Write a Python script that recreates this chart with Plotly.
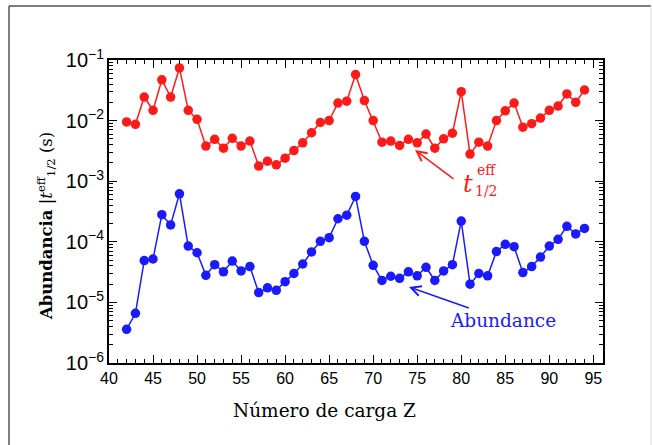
import plotly.graph_objects as go

# Charge number Z
charge_z = [42, 43, 44, 45, 46, 47, 48, 49, 50, 51, 52, 53, 54, 55, 56, 57, 58,
            59, 60, 61, 62, 63, 64, 65, 66, 67, 68, 69, 70, 71, 72, 73, 74, 75,
            76, 77, 78, 79, 80, 81, 82, 83, 84, 85, 86, 87, 88, 89, 90, 91, 92,
            93, 94]

# Effective half-life t_1/2^eff (s)
half_life = [0.0095, 0.0087, 0.0245, 0.0148, 0.047, 0.0245, 0.074, 0.0148,
             0.0105, 0.0038, 0.0049, 0.0035, 0.0051, 0.0038, 0.0046, 0.00178,
             0.00214, 0.00186, 0.0024, 0.0032, 0.0043, 0.0063, 0.0093, 0.0100,
             0.0195, 0.0209, 0.0575, 0.0214, 0.0100, 0.0044, 0.0046, 0.0039,
             0.0049, 0.0043, 0.0060, 0.0035, 0.0050, 0.0062, 0.030, 0.0028,
             0.0044, 0.0038, 0.0100, 0.0145, 0.0195, 0.0078, 0.0089, 0.011,
             0.0148, 0.0174, 0.0275, 0.020, 0.032]

# Abundance
abundance = [3.6e-6, 6.6e-6, 4.9e-5, 5.2e-5, 2.8e-4, 1.9e-4, 6.2e-4, 8.5e-5,
             6.6e-5, 2.8e-5, 4.2e-5, 3.2e-5, 4.8e-5, 3.3e-5, 3.9e-5, 1.45e-5,
             1.74e-5, 1.58e-5, 2.2e-5, 3.0e-5, 4.3e-5, 6.8e-5, 1.02e-4, 1.17e-4,
             2.4e-4, 2.75e-4, 5.6e-4, 1.02e-4, 4.1e-5, 2.3e-5, 2.7e-5, 2.5e-5,
             3.2e-5, 2.75e-5, 3.8e-5, 2.3e-5, 3.3e-5, 4.2e-5, 2.2e-4, 2.0e-5,
             3.0e-5, 2.75e-5, 6.9e-5, 9.1e-5, 8.3e-5, 3.1e-5, 3.9e-5, 5.6e-5,
             8.5e-5, 1.1e-4, 1.8e-4, 1.35e-4, 1.66e-4]

x_ticks = [40, 45, 50, 55, 60, 65, 70, 75, 80, 85, 90, 95]

RED = "#ff1a1a"
BLUE = "#1a1aff"
SERIF = "DejaVu Serif"
SANS = "Liberation Sans"

W, H = 653, 445
M_L, M_R, M_T, M_B = 109, 50, 60, 82
PW, PH = W - M_L - M_R, H - M_T - M_B


def px(x):
    return (x - M_L) / PW


def py(y):
    return (H - M_B - y) / PH


def label(x, y, text, size, color, **kw):
    """Text centred on a pixel position of the figure."""
    return dict(x=px(x), y=py(y), xref="paper", yref="paper", text=text,
                showarrow=False, xanchor="center", yanchor="middle",
                font=dict(family=SERIF, size=size, color=color), **kw)


fig = go.Figure()
fig.add_trace(go.Scatter(x=charge_z, y=half_life, mode="lines+markers",
                         line=dict(color=RED, width=1.5),
                         marker=dict(color=RED, size=9.5), showlegend=False))
fig.add_trace(go.Scatter(x=charge_z, y=abundance, mode="lines+markers",
                         line=dict(color=BLUE, width=1.5),
                         marker=dict(color=BLUE, size=9.5), showlegend=False))

annotations = [
    # arrow to the half-life curve
    dict(x=px(415), y=py(150), xref="paper", yref="paper", text="",
         showarrow=True, ax=40, ay=30, arrowcolor=RED, arrowwidth=1.5,
         arrowhead=5, arrowsize=1.3),
    label(468, 184, "<i>t</i>", 24, RED),
    label(486, 170, "eff", 14, RED),
    label(486, 191, "1/2", 14, RED),
    # arrow + label for abundance
    dict(x=px(409), y=py(287), xref="paper", yref="paper",
         text="Abundance", showarrow=True, ax=94, ay=33, standoff=0,
         arrowcolor=BLUE, arrowwidth=1.5, arrowhead=5, arrowsize=1.3,
         font=dict(family=SERIF, size=18.5, color=BLUE)),
    # axis titles
    label(46, 226,
          "<b>Abundancia</b> |<i>t</i><sup>eff</sup><sub>1/2</sub> (s)",
          16.5, "black", textangle=-90),
    label(324, 410, "Número de carga Z", 18.5, "black"),
]

shapes = [
    dict(type="line", xref="paper", yref="paper", x0=px(9), x1=px(9),
         y0=py(6), y1=py(460), line=dict(color="#555555", width=1.5)),
    dict(type="line", xref="paper", yref="paper", x0=px(9), x1=px(651),
         y0=py(6), y1=py(6), line=dict(color="#555555", width=1.5)),
    dict(type="line", xref="paper", yref="paper", x0=px(651), x1=px(651),
         y0=py(6), y1=py(460), line=dict(color="#dddddd", width=1)),
]

fig.update_layout(
    width=W, height=H,
    margin=dict(l=M_L, r=M_R, t=M_T, b=M_B),
    paper_bgcolor="white", plot_bgcolor="white",
    annotations=annotations, shapes=shapes,
    xaxis=dict(
        range=[40, 96.1], tickvals=x_ticks, ticks="inside", ticklen=8,
        tickwidth=1.3, tickcolor="black", showline=True, linecolor="black",
        linewidth=1.5, mirror="allticks", showgrid=False, zeroline=False,
        tickfont=dict(family=SANS, size=16, color="black"),
        minor=dict(dtick=1, ticks="inside", ticklen=4, tickcolor="black",
                   tickwidth=1, showgrid=False),
    ),
    yaxis=dict(
        type="log", range=[-6, -1], dtick=1, exponentformat="power",
        showexponent="all", ticks="inside", ticklen=8, tickwidth=1.3,
        tickcolor="black", showline=True, linecolor="black", linewidth=1.5,
        mirror="allticks", showgrid=False, zeroline=False,
        tickfont=dict(family=SANS, size=16, color="black"),
        minor=dict(dtick="D1", ticks="inside", ticklen=4, tickcolor="black",
                   tickwidth=1, showgrid=False),
    ),
)

fig.write_html("out.html")
